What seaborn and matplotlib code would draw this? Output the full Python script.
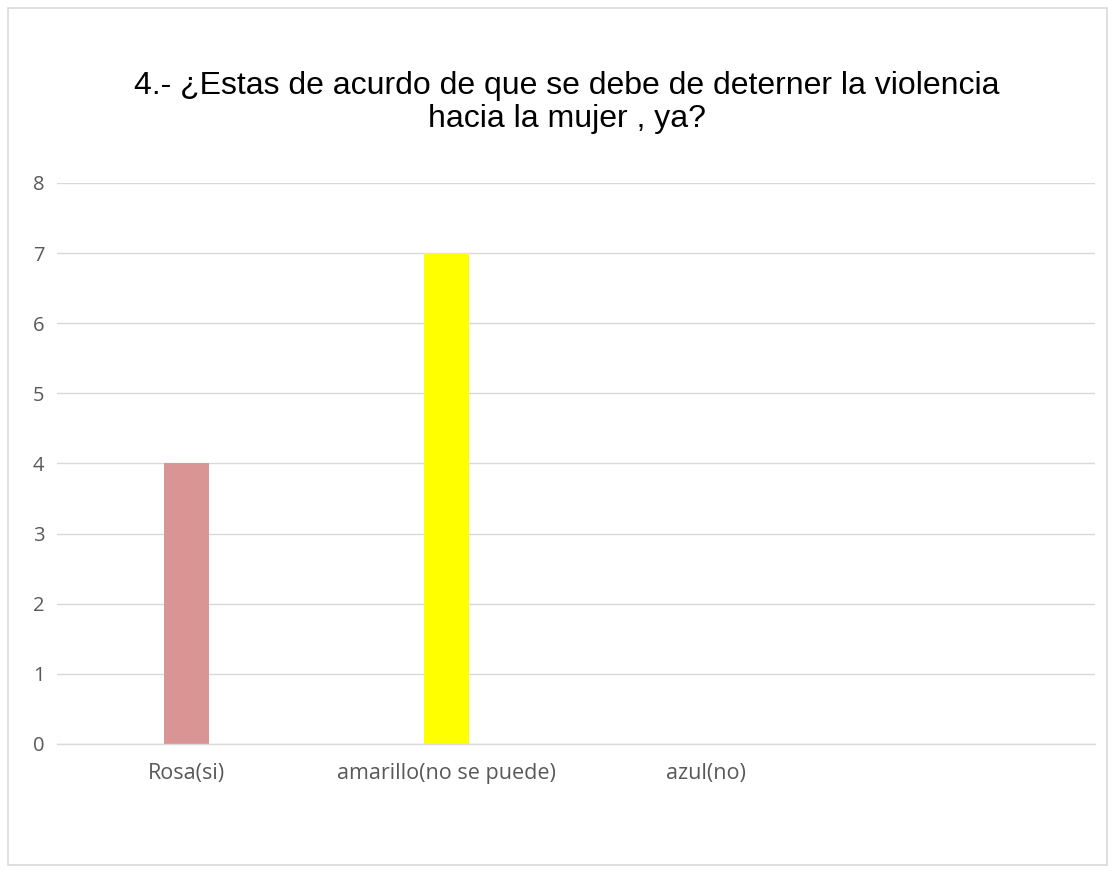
import pandas as pd
import seaborn as sns
import matplotlib.pyplot as plt
from matplotlib.patches import Rectangle

categories = ['Rosa(si)', 'amarillo(no se puede)', 'azul(no)', '']
counts = [4, 7, 0, 0]
bar_colors = ['#D99594', '#FFFF00', '#4F81BD', '#FFFFFF']
title = '4.- ¿Estas de acurdo de que se debe de deterner la violencia\nhacia la mujer , ya?'


def plot_chart():
    df = pd.DataFrame({'categoria': categories, 'cantidad': counts})

    sns.set_style('white')
    plt.rcParams['font.family'] = ['Open Sans', 'DejaVu Sans']

    fig = plt.figure(figsize=(11.15, 8.73), dpi=100)
    ax = fig.add_axes([0.0511, 0.1478, 0.9309, 0.6426])

    sns.barplot(data=df, ax=ax, x='categoria', y='cantidad', hue='categoria',
                palette=bar_colors, order=categories, hue_order=categories,
                width=0.174, linewidth=0, saturation=1, legend=False)

    ax.set_xlim(-0.5, 3.5)
    ax.set_ylim(0, 8)
    ax.set_yticks(range(0, 9))
    ax.grid(axis='y', color='#D9D9D9', linewidth=1.0)
    ax.set_axisbelow(True)
    for side in ['top', 'right', 'left']:
        ax.spines[side].set_visible(False)
    ax.spines['bottom'].set_color('#D9D9D9')
    ax.spines['bottom'].set_linewidth(1.0)
    ax.tick_params(axis='y', length=0, labelsize=14.5, labelcolor='#595959', pad=9)
    ax.tick_params(axis='x', length=0, labelsize=15.5, labelcolor='#595959', pad=14)
    ax.set_xlabel('')
    ax.set_ylabel('')

    fig.text(0.5086, 0.883, title, ha='center', va='center', fontsize=23,
             family=['Liberation Sans', 'DejaVu Sans'], color='#000000',
             linespacing=1.12)

    # chart frame
    fig.patches.append(Rectangle((0.007, 0.009), 0.986, 0.982, transform=fig.transFigure,
                                 fill=False, edgecolor='#D9D9D9', linewidth=1.2))

    plt.savefig('out.png', dpi=100)


if __name__ == '__main__':
    plot_chart()
